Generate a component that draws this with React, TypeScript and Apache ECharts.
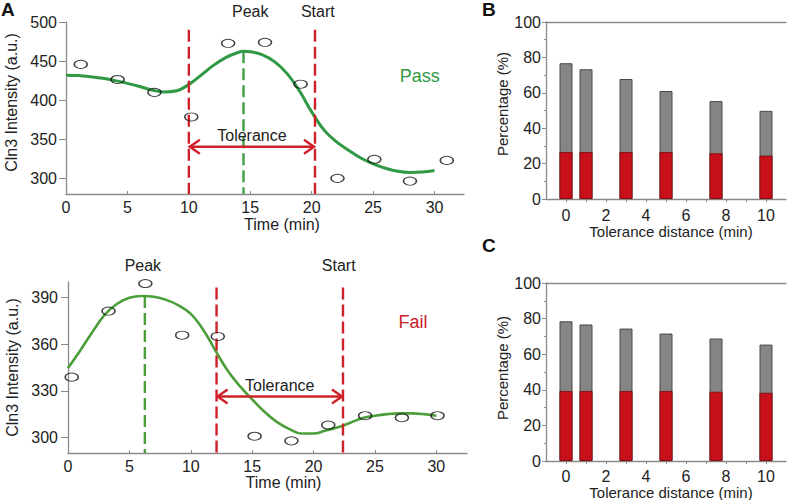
import React, { useEffect, useRef } from "react";
import * as echarts from "echarts";

// ---------- Panel A (top): Pass ----------
const passTime = [1.2, 4.2, 7.2, 10.2, 13.2, 16.2, 19.1, 22.1, 25.1, 28.0, 31.0];
const passIntensity = [445.8, 426.5, 410, 378.6, 472.7, 474, 420.5, 300, 324.4, 296.5, 323];
const passFitTime = [0, 1, 2, 3, 4, 5, 6, 7, 8, 9, 10, 11, 12, 13, 14, 14.5, 15, 16, 17, 18, 19, 20, 21, 22, 23, 24, 25, 26, 27, 28, 29, 30];
const passFitValue = [432, 431.5, 430, 428, 425, 421.5, 417.5, 413, 410.5, 412, 420, 432, 444.5, 454.5, 461, 462.5, 462, 458, 449, 434, 412, 385, 362, 347, 336, 326, 318.5, 313, 309, 307.5, 308, 310];
// [tolerance start, peak, start]
const passMarkTimes = [10, 14.45, 20.27];
const passMarkTops = [490, 462.5, 490];
const passArrowY = [340.4];
const passLabelTimes = [15.0, 20.5]; // Peak, Start
const passStatusPos = [28.8, 431];

// ---------- Panel A (bottom): Fail ----------
const failTime = [0.3, 3.3, 6.3, 9.3, 12.2, 15.2, 18.2, 21.2, 24.2, 27.2, 30.1];
const failIntensity = [338.8, 381.3, 399, 365.8, 365, 300.8, 297.8, 308, 314, 312.7, 314];
const failFitTime = [0, 1, 2, 3, 4, 5, 6, 7, 8, 9, 10, 11, 12, 13, 14, 15, 16, 17, 18, 19, 20, 21, 22, 23, 24, 25, 26, 27, 28, 29, 30];
const failFitValue = [344.7, 356, 368, 379, 386, 389.8, 391, 390.5, 388.5, 385, 379.5, 369.5, 356, 343, 333, 324.5, 316.5, 310, 305.5, 302.5, 302.5, 304.5, 306.5, 309.5, 312.5, 314, 315, 315.5, 315.5, 315, 314];
const failMarkTimes = [12.1, 6.26, 22.4];
const failMarkTops = [396.5, 391, 396.5];
const failArrowY = [326.3];
const failLabelTimes = [6.1, 22.05];
const failStatusPos = [28.1, 374.3];

// ---------- Panels B and C ----------
const toleranceDistance = [0, 1, 3, 5, 7.5, 10];
const bTotal = [76.7, 73.3, 67.8, 61, 55.3, 49.8];
const bRed = [26.5, 26.5, 26.5, 26.5, 25.8, 24.5];
const cTotal = [78.5, 76.7, 74.4, 71.6, 68.8, 65.4];
const cRed = [39.3, 39.3, 39.3, 39.3, 38.9, 38.3];

// ticks
const passYTicks = [300, 350, 400, 450, 500];
const failYTicks = [300, 330, 360, 390];
const timeTicks = [0, 5, 10, 15, 20, 25, 30];
const distLabelTicks = [0, 2, 4, 6, 8, 10];
const distTicks = [0, 1, 2, 3, 4, 5, 6, 7, 8, 9, 10];

const FONT = "'Liberation Sans', Arial, Helvetica, sans-serif";
const AXIS_GRAY = "#8a8a8a";
const TEXT = "#222";
const RED = "#d0202a";

function zip(a: number[], b: number[]) {
  return a.map((v, i) => [v, b[i]]);
}

function annotation(
  idx: number,
  marks: number[],
  tops: number[],
  yMin: number,
  arrowY: number,
  labelTimes: number[],
  labelY: number,
  status: string,
  statusPos: number[],
  statusColor: string,
  greenColor: string
) {
  return {
    type: "custom",
    xAxisIndex: idx,
    yAxisIndex: idx,
    clip: false,
    silent: true,
    z: 5,
    data: [[0, 0]],
    renderItem: (_params: any, api: any) => {
      const c = (x: number, y: number) => api.coord([x, y]);
      const dash = [12, 5];
      const [x0, y0t] = c(marks[0], tops[0]);
      const [, yb] = c(marks[0], yMin);
      const [xp, ypt] = c(marks[1], tops[1]);
      const [xs, yst] = c(marks[2], tops[2]);
      const [, ya] = c(marks[0], arrowY);
      const [lpx] = c(labelTimes[0], yMin);
      const [lsx] = c(labelTimes[1], yMin);
      const [, ly] = c(0, labelY);
      const [stx, sty] = c(statusPos[0], statusPos[1]);
      const head = 11;
      const spread = 7;
      const txt = (text: string, x: number, y: number, fill: string, size: number) => ({
        type: "text",
        x,
        y,
        style: { text, fill, fontSize: size, fontFamily: FONT, align: "center", verticalAlign: "middle" },
      });
      return {
        type: "group",
        children: [
          { type: "line", shape: { x1: x0, y1: y0t, x2: x0, y2: yb }, style: { stroke: RED, lineWidth: 2.4, lineDash: dash } },
          { type: "line", shape: { x1: xs, y1: yst, x2: xs, y2: yb }, style: { stroke: RED, lineWidth: 2.4, lineDash: dash } },
          { type: "line", shape: { x1: xp, y1: ypt, x2: xp, y2: yb }, style: { stroke: greenColor, lineWidth: 2.4, lineDash: dash } },
          { type: "line", shape: { x1: x0, y1: ya, x2: xs, y2: ya }, style: { stroke: RED, lineWidth: 2.4 } },
          { type: "polyline", shape: { points: [[x0 + head, ya - spread], [x0 + 1, ya], [x0 + head, ya + spread]] }, style: { stroke: RED, lineWidth: 2.4, fill: null } },
          { type: "polyline", shape: { points: [[xs - head, ya - spread], [xs - 1, ya], [xs - head, ya + spread]] }, style: { stroke: RED, lineWidth: 2.4, fill: null } },
          txt("Tolerance", (x0 + xs) / 2, ya - 11, TEXT, 16),
          txt("Peak", lpx, ly, TEXT, 16),
          txt("Start", lsx, ly, TEXT, 16),
          txt(status, stx, sty, statusColor, 18),
        ],
      };
    },
  };
}

export default function App() {
  const ref = useRef<HTMLDivElement>(null);
  useEffect(() => {
    if (!ref.current) return;
    const chart = echarts.init(ref.current, undefined, { renderer: "svg" });

    const axisLine = { show: true, onZero: false, lineStyle: { color: AXIS_GRAY, width: 1.3 } };
    const labelStyle = { color: TEXT, fontSize: 16, fontFamily: FONT };
    const nameStyle = (pad?: number[]) => ({ color: TEXT, fontSize: 16, fontFamily: FONT, padding: pad || 0 });
    const nameStyleB = (pad?: number[]) => ({ color: TEXT, fontSize: 15, fontFamily: FONT, padding: pad || 0 });

    const timeX = (gridIndex: number, max: number, gap: number, pad: number[]) => ({
      type: "value",
      gridIndex,
      min: 0,
      max,
      name: "Time (min)",
      nameLocation: "middle",
      nameGap: gap,
      nameTextStyle: nameStyle(pad),
      axisLine,
      axisTick: { show: true, inside: true, length: 3, customValues: timeTicks, lineStyle: { color: AXIS_GRAY } },
      axisLabel: { ...labelStyle, margin: 5, customValues: timeTicks },
      splitLine: { show: false },
    });

    const distX = (gridIndex: number, gap: number, margin: number) => ({
      type: "value",
      gridIndex,
      min: -1,
      max: 11,
      name: "Tolerance distance (min)",
      nameLocation: "middle",
      nameGap: gap,
      nameTextStyle: nameStyleB([0, 0, 0, 10]),
      axisLine,
      axisTick: { show: true, inside: false, length: 3, customValues: distTicks, lineStyle: { color: AXIS_GRAY } },
      axisLabel: { ...labelStyle, margin, customValues: distLabelTicks },
      splitLine: { show: false },
    });

    const topBorder = (gridIndex: number) => ({
      type: "value",
      gridIndex,
      position: "top",
      min: -1,
      max: 11,
      axisLine,
      axisTick: { show: false },
      axisLabel: { show: false },
      splitLine: { show: false },
    });

    const pctY = (gridIndex: number, pad: number[]) => ({
      type: "value",
      gridIndex,
      min: 0,
      max: 100,
      interval: 20,
      name: "Percentage (%)",
      nameLocation: "middle",
      nameGap: 28,
      nameTextStyle: nameStyleB(pad),
      axisLine,
      axisTick: { show: true, inside: false, length: 4, lineStyle: { color: AXIS_GRAY } },
      minorTick: { show: true, splitNumber: 2, length: 2, lineStyle: { color: AXIS_GRAY } },
      axisLabel: { ...labelStyle, margin: 5 },
      splitLine: { show: false },
    });

    const barPair = (idx: number, total: number[], red: number[]) => [
      {
        type: "bar",
        xAxisIndex: idx,
        yAxisIndex: idx,
        barWidth: 13,
        barGap: "-100%",
        data: zip(toleranceDistance, total),
        itemStyle: { color: "#858585", borderColor: "#4a4a4a", borderWidth: 1 },
        silent: true,
      },
      {
        type: "bar",
        xAxisIndex: idx,
        yAxisIndex: idx,
        barWidth: 13,
        barGap: "-100%",
        data: zip(toleranceDistance, red),
        itemStyle: { color: "#c8101a", borderColor: "#7a0a0a", borderWidth: 0.8 },
        silent: true,
      },
    ];

    const option: any = {
      animation: false,
      backgroundColor: "#ffffff",
      textStyle: { fontFamily: FONT },
      grid: [
        { left: 66, top: 22, width: 398, height: 172, outerBoundsMode: "none", containLabel: false },
        { left: 68, top: 282, width: 399, height: 171, outerBoundsMode: "none", containLabel: false },
        { left: 546, top: 22, width: 240, height: 177, outerBoundsMode: "none", containLabel: false },
        { left: 546, top: 283, width: 240, height: 178, outerBoundsMode: "none", containLabel: false },
      ],
      xAxis: [
        timeX(0, 32.4, 22, [0, 0, 0, 34]),
        timeX(1, 32.5, 15, [0, 0, 0, 32]),
        distX(2, 23, 8),
        distX(3, 21, 7),
        topBorder(2),
        topBorder(3),
      ],
      yAxis: [
        {
          type: "value",
          gridIndex: 0,
          min: 280,
          max: 500,
          name: "Cln3 Intensity (a.u.)",
          nameLocation: "middle",
          nameGap: 40,
          nameTextStyle: nameStyle([0, 0, 0, 11]),
          axisLine,
          axisTick: { show: true, inside: false, length: 7, customValues: passYTicks, lineStyle: { color: AXIS_GRAY } },
          axisLabel: { ...labelStyle, margin: 9, customValues: passYTicks },
          splitLine: { show: false },
        },
        {
          type: "value",
          gridIndex: 1,
          min: 290,
          max: 400,
          name: "Cln3 Intensity (a.u.)",
          nameLocation: "middle",
          nameGap: 41,
          nameTextStyle: nameStyle(),
          axisLine,
          axisTick: { show: true, inside: false, length: 7, customValues: failYTicks, lineStyle: { color: AXIS_GRAY } },
          axisLabel: { ...labelStyle, margin: 10, customValues: failYTicks },
          splitLine: { show: false },
        },
        pctY(2, [0, 0, 0, 13]),
        pctY(3, [0, 0, 0, 8]),
      ],
      graphic: [
        { type: "text", left: 1, top: 0, style: { text: "A", fontSize: 19, fontWeight: "bold", fontFamily: FONT, fill: "#111" } },
        { type: "text", left: 482, top: 0, style: { text: "B", fontSize: 19, fontWeight: "bold", fontFamily: FONT, fill: "#111" } },
        { type: "text", left: 482, top: 236, style: { text: "C", fontSize: 19, fontWeight: "bold", fontFamily: FONT, fill: "#111" } },
      ],
      series: [
        {
          type: "line",
          xAxisIndex: 0,
          yAxisIndex: 0,
          data: zip(passFitTime, passFitValue),
          smooth: 0.4,
          showSymbol: false,
          silent: true,
          lineStyle: { color: "#2f9945", width: 3 },
          z: 2,
        },
        {
          type: "scatter",
          xAxisIndex: 0,
          yAxisIndex: 0,
          data: zip(passTime, passIntensity),
          symbol: "circle",
          symbolSize: [13, 8],
          silent: true,
          itemStyle: { color: "rgba(255,255,255,0)", borderColor: "#111", borderWidth: 1.2 },
          z: 6,
        },
        annotation(0, passMarkTimes, passMarkTops, 280, passArrowY[0], passLabelTimes, 514, "Pass", passStatusPos, "#2f9945", "#3f9f45"),
        {
          type: "line",
          xAxisIndex: 1,
          yAxisIndex: 1,
          data: zip(failFitTime, failFitValue),
          smooth: 0.4,
          showSymbol: false,
          silent: true,
          lineStyle: { color: "#4c9e3a", width: 2.6 },
          z: 2,
        },
        {
          type: "scatter",
          xAxisIndex: 1,
          yAxisIndex: 1,
          data: zip(failTime, failIntensity),
          symbol: "circle",
          symbolSize: [13, 8],
          silent: true,
          itemStyle: { color: "rgba(255,255,255,0)", borderColor: "#111", borderWidth: 1.2 },
          z: 6,
        },
        annotation(1, failMarkTimes, failMarkTops, 290, failArrowY[0], failLabelTimes, 410.9, "Fail", failStatusPos, "#c8202a", "#4c9e3a"),
        ...barPair(2, bTotal, bRed),
        ...barPair(3, cTotal, cRed),
      ],
    };

    chart.setOption(option);
    return () => chart.dispose();
  }, []);

  return (
    <div
      ref={ref}
      style={{ position: "absolute", left: 0, top: 0, width: 788, height: 500, background: "#fff" }}
    />
  );
}
